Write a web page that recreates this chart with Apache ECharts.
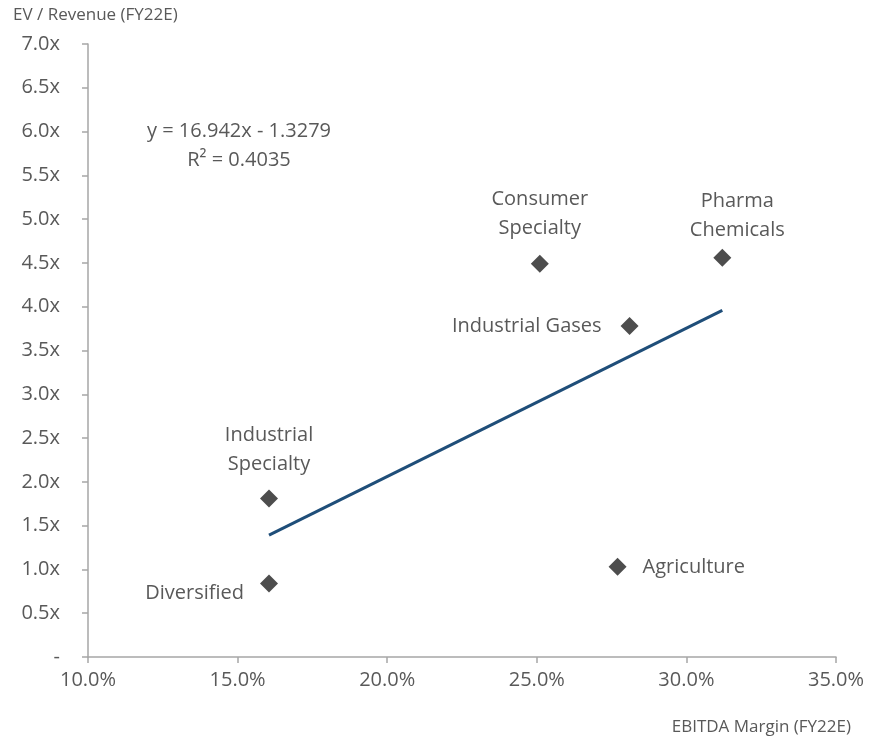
<!DOCTYPE html>
<html>
<head>
<meta charset="utf-8">
<script src="https://cdn.jsdelivr.net/npm/echarts@6/dist/echarts.min.js"></script>
<style>html,body{margin:0;padding:0;background:#fff}#c{width:870px;height:741px}</style>
</head>
<body>
<div id="c"></div>
<script>
// Data (x = EBITDA margin in %, y = EV/Revenue multiple)
const names = ['Industrial Specialty', 'Diversified', 'Consumer Specialty', 'Industrial Gases', 'Pharma Chemicals', 'Agriculture'];
const labelText = ['Industrial\nSpecialty', 'Diversified', 'Consumer\nSpecialty', 'Industrial Gases', 'Pharma\nChemicals', 'Agriculture'];
const ebitdaMargin = [16.05, 16.05, 25.1, 28.1, 31.2, 27.7];
const evRevenue = [1.81, 0.84, 4.49, 3.78, 4.56, 1.03];
const trendSlope = 16.942;
const trendIntercept = -1.3279;
const trendR2 = 0.4035;
const xTicks = [10, 15, 20, 25, 30, 35];
const yTicks = [0, 0.5, 1, 1.5, 2, 2.5, 3, 3.5, 4, 4.5, 5, 5.5, 6, 6.5, 7];

const FONT = '"Open Sans"';
const TXT = '#595959';
const FS = 20;

const labelPos = {
  'Industrial Specialty': {position: 'top', distance: 11},
  'Diversified': {position: 'left', distance: 16, offset: [0, 10]},
  'Consumer Specialty': {position: 'top', distance: 12},
  'Industrial Gases': {position: 'left', distance: 19},
  'Pharma Chemicals': {position: 'top', distance: 4, offset: [15, 0]},
  'Agriculture': {position: 'right', distance: 16}
};

const points = names.map((n, i) => ({
  name: n,
  value: [ebitdaMargin[i], evRevenue[i]],
  label: Object.assign({show: true, formatter: labelText[i], align: 'center', lineHeight: 29}, labelPos[n],
    labelPos[n].position === 'left' ? {align: 'right'} : labelPos[n].position === 'right' ? {align: 'left'} : {})
}));

const xMin = Math.min(...ebitdaMargin), xMax = Math.max(...ebitdaMargin);
const trend = [[xMin, trendSlope * xMin / 100 + trendIntercept], [xMax, trendSlope * xMax / 100 + trendIntercept]];

const chart = echarts.init(document.getElementById('c'), null, {renderer: 'canvas'});
chart.setOption({
  backgroundColor: '#fff',
  animation: false,
  textStyle: {fontFamily: FONT},
  grid: {left: 88, right: 34, top: 44, bottom: 84, containLabel: false},
  xAxis: {
    type: 'value', min: xTicks[0], max: xTicks[xTicks.length - 1], interval: 5,
    axisLine: {show: true, lineStyle: {color: '#A6A6A6', width: 1.5}},
    axisTick: {show: true, length: 6, lineStyle: {color: '#A6A6A6', width: 1.5}},
    axisLabel: {color: TXT, fontSize: FS, fontFamily: FONT, margin: 13, formatter: v => v.toFixed(1) + '%'},
    splitLine: {show: false}
  },
  yAxis: {
    type: 'value', min: yTicks[0], max: yTicks[yTicks.length - 1], interval: 0.5,
    axisLine: {show: true, lineStyle: {color: '#A6A6A6', width: 1.5}},
    axisTick: {show: true, length: 6, lineStyle: {color: '#A6A6A6', width: 1.5}},
    axisLabel: {color: TXT, fontSize: FS, fontFamily: FONT, margin: 28, formatter: v => v === 0 ? '-' : v.toFixed(1) + 'x'},
    splitLine: {show: false}
  },
  graphic: [
    {type: 'text', left: 13, top: 7, style: {text: 'EV / Revenue (FY22E)', fill: TXT, font: '17px ' + FONT}},
    {type: 'text', right: 19, top: 719, style: {text: 'EBITDA Margin (FY22E)', fill: TXT, font: '17px ' + FONT}},
    {type: 'text', x: 239, y: 131, style: {text: 'y = ' + trendSlope.toFixed(3) + 'x - ' + Math.abs(trendIntercept).toFixed(4), fill: TXT, font: FS + 'px ' + FONT, align: 'center', verticalAlign: 'middle'}},
    {type: 'text', x: 239, y: 160, style: {text: 'R² = ' + trendR2.toFixed(4), fill: TXT, font: FS + 'px ' + FONT, align: 'center', verticalAlign: 'middle'}}
  ],
  series: [
    {
      type: 'line', data: trend, symbol: 'none', silent: true,
      lineStyle: {color: '#1F4E79', width: 3}, z: 1
    },
    {
      type: 'scatter', data: points, symbol: 'diamond', symbolSize: 18,
      itemStyle: {color: '#4D4D4D', opacity: 1},
      label: {color: TXT, fontSize: FS, fontFamily: FONT},
      z: 3
    }
  ]
});
</script>
</body>
</html>
